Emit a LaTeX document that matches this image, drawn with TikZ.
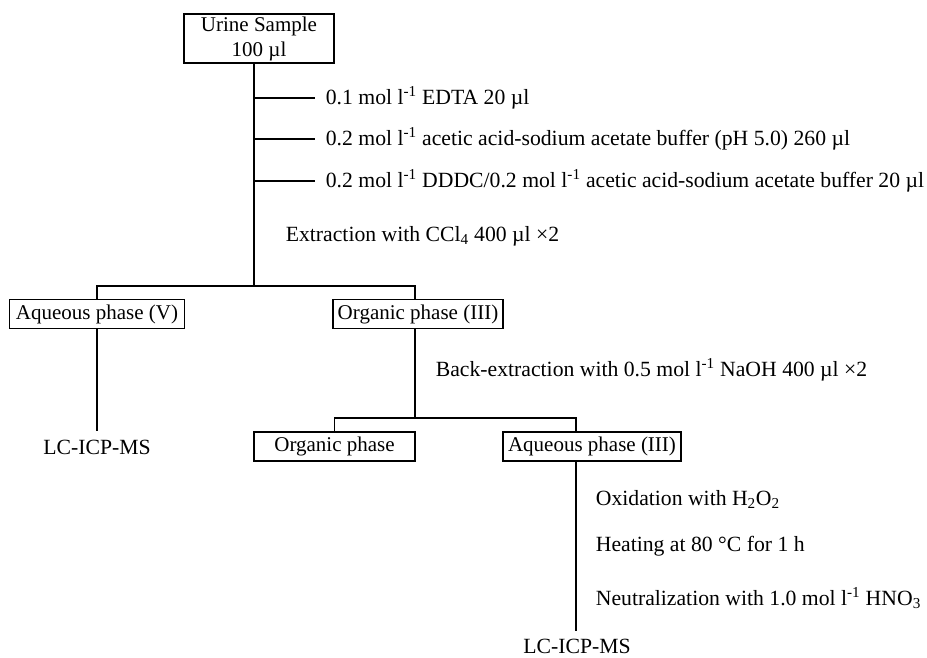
\documentclass[tikz,border=0pt]{standalone}
\usepackage{fontspec}
\setmainfont{Liberation Serif}
\newcommand{\fs}{\fontsize{21.7}{25}\selectfont}
\newcommand{\fb}{\fontsize{21}{25}\selectfont}
\newcommand{\minus}{\textsuperscript{-1}}
\begin{document}
\begin{tikzpicture}[x=1pt,y=-1pt,line width=1.7pt,
  box/.style={draw,line width=1.7pt,inner sep=0pt,minimum height=29pt,font=\fb},
  lbl/.style={anchor=base west,inner sep=0pt,font=\fs},
  endlbl/.style={anchor=base,inner sep=0pt,font=\fs}]
\useasboundingbox (0,0) rectangle (927,657);
% nodes
\node[box,minimum width=150pt,minimum height=49pt,align=center] (urine) at (259,38.5) {Urine Sample\\100 µl};
\node[lbl] (edta) at (325,104) {0.1 mol l\minus{} EDTA 20 µl};
\node[lbl] (buf) at (325,145) {0.2 mol l\minus{} acetic acid-sodium acetate buffer (pH 5.0) 260 µl};
\node[lbl] (dddc) at (325,187) {0.2 mol l\minus{} DDDC/0.2 mol l\minus{} acetic acid-sodium acetate buffer 20 µl};
\node[lbl] (extr) at (285,241) {Extraction with CCl\textsubscript{4} 400 µl ×2};
\node[box,minimum width=175pt] (aq5) at (97,314) {Aqueous phase (V)};
\node[box,minimum width=170pt] (org3) at (418,314) {Organic phase (III)};
\node[endlbl] (lc1) at (97,454) {LC-ICP-MS};
\node[lbl] (back) at (435,376) {Back-extraction with 0.5 mol l\minus{} NaOH 400 µl ×2};
\node[box,minimum width=161pt] (org) at (334.5,446.5) {Organic phase};
\node[box,minimum width=178pt] (aq3) at (592,446.5) {Aqueous phase (III)};
\node[lbl] (ox) at (595,505) {Oxidation with H\textsubscript{2}O\textsubscript{2}};
\node[lbl] (heat) at (595,551) {Heating at 80 °C for 1 h};
\node[lbl] (neut) at (595,605) {Neutralization with 1.0 mol l\minus{} HNO\textsubscript{3}};
\node[endlbl] (lc2) at (577,653) {LC-ICP-MS};
% junctions
\coordinate (j1) at (254,286);
\coordinate (v3) at (415,418);
\coordinate (v4) at (576,418);
% connectors
\draw (urine.south -| j1) -- (j1);
\foreach \n in {edta,buf,dddc}
  \draw ([yshift=6pt]\n.base west -| j1) -- ([xshift=-10pt,yshift=6pt]\n.base west);
\draw (aq5.north) |- (j1) -| (v3 |- org3.north);
\draw (aq5.south) -- ([yshift=8pt]lc1.north -| aq5.south);
\draw (v3 |- org3.south) -- (v3);
\draw (org.north) |- (v3) -| (v4 |- aq3.north);
\draw (v4 |- aq3.south) -- ([yshift=7pt]lc2.north -| v4);
\end{tikzpicture}
\end{document}
